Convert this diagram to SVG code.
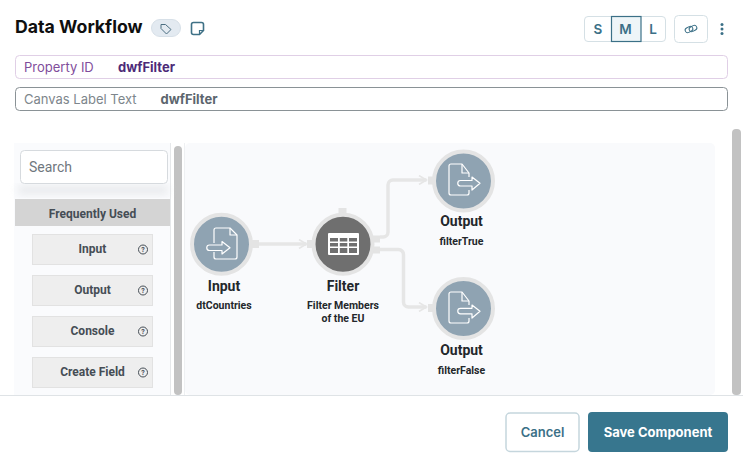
<svg xmlns="http://www.w3.org/2000/svg" width="743" height="461" viewBox="0 0 743 461">
<defs>
<filter id="sh" x="-10%" y="-30%" width="120%" height="180%"><feGaussianBlur stdDeviation="4"/></filter>
<marker id="arr" viewBox="0 0 10 10" refX="8.500" refY="5" markerWidth="10" markerHeight="10" markerUnits="userSpaceOnUse" orient="auto"><path d="M1 0.500L8.500 5L1 9.500" fill="none" stroke="#e6e6e6" stroke-width="1.600"/></marker>
</defs>
<style>
text{font-family:Inter,"Liberation Sans",sans-serif}
.r{font-family:Roboto,"Liberation Sans",sans-serif}
.side{fill:#eeeeee;stroke:#e2e2e2;stroke-width:1}
.sl{font-family:Roboto,"Liberation Sans",sans-serif;font-size:12px;font-weight:700;fill:#454d55;text-anchor:middle}
.q{fill:none;stroke:#454d55;stroke-width:1}
.qt{font-family:Roboto,"Liberation Sans",sans-serif;font-size:7px;font-weight:700;fill:#454d55;text-anchor:middle}
.ring{stroke:#e4e4e4;stroke-width:4}
.blue{fill:#8fa3b2}
.port{fill:#e4e4e4}
.nt{font-family:Roboto,"Liberation Sans",sans-serif;font-size:14px;font-weight:700;fill:#23272b;text-anchor:middle}
.ns{font-family:Roboto,"Liberation Sans",sans-serif;font-size:10.500px;font-weight:700;fill:#23272b;text-anchor:middle}
.conn{fill:none;stroke:#e6e6e6;stroke-width:3.500;stroke-linejoin:round}
.w{fill:none;stroke:#fff;stroke-width:1.200;stroke-linejoin:round}
.sz{font-size:13.500px;font-weight:600;fill:#3b7087;text-anchor:middle}
</style>
<rect width="743" height="461" fill="#fff"/>

<g id="header">
<text x="15" y="33" font-size="17.700" font-weight="700" fill="#0f0f0f">Data Workflow</text>
<rect x="151.500" y="19.500" width="29" height="17" rx="8.500" fill="#e3eaf1" stroke="#d7e0e8"/>
<path d="M161 24.500h4.500l5.500 5l-4.500 4.500l-5.500 -5.500z" fill="none" stroke="#4c6f82" stroke-width="1"/>
<path d="M191.500 24.500a2 2 0 0 1 2 -2h8a2 2 0 0 1 2 2v6l-4 4h-6a2 2 0 0 1 -2 -2z" fill="none" stroke="#3f7186" stroke-width="1.600"/>
<path d="M199.500 34.500v-4h4" fill="none" stroke="#3f7186" stroke-width="1.200"/>
</g>

<g id="size-buttons">
<rect x="584.500" y="16.500" width="81" height="25" rx="3.500" fill="#fff" stroke="#d5e0e5"/>
<rect x="611.500" y="16.500" width="29.500" height="25" fill="#eef5f8" stroke="#3b7087" stroke-width="1.200"/>
<text class="sz" x="598" y="34">S</text>
<text class="sz" x="625.500" y="34">M</text>
<text class="sz" x="653" y="34">L</text>
<rect x="674.500" y="15.500" width="33" height="27" rx="4" fill="#fff" stroke="#d5e0e5"/>
<g fill="none" stroke="#3b7087" stroke-width="1"><rect x="685" y="27" width="8" height="5" rx="2.500" transform="rotate(-28 689 29.500)"/><rect x="689" y="26" width="8" height="5" rx="2.500" transform="rotate(-28 693 28.500)"/></g>
<g fill="#3b7087"><circle cx="722" cy="24.500" r="1.500"/><circle cx="722" cy="29" r="1.500"/><circle cx="722" cy="33.500" r="1.500"/></g>
</g>

<g id="property-id">
<rect x="15.500" y="55.500" width="712" height="23" rx="4" fill="#fff" stroke="#e0cfe6"/>
<text x="24" y="72" font-size="13" fill="#7f4d9b">Property ID</text>
<text x="118" y="72" font-size="13" font-weight="700" fill="#4d2a78">dwfFilter</text>
</g>
<g id="canvas-label">
<rect x="15.500" y="87.500" width="712" height="23" rx="4" fill="#fff" stroke="#8a9296"/>
<text x="24" y="104" font-size="13" fill="#7d868c">Canvas Label Text</text>
<text x="160.500" y="104" font-size="13" font-weight="700" fill="#5c666e">dwfFilter</text>
</g>

<g id="canvas">
<rect x="14" y="143" width="156" height="252" fill="#fafbfd"/>
<rect x="170" y="143" width="1" height="252" fill="#e6e8ea"/>
<rect x="174" y="146" width="8" height="249" rx="4" fill="#c2c2c2"/>
<rect x="185" y="143" width="530" height="252" rx="5" fill="#f9fafc"/>
<rect x="184" y="143" width="1" height="252" fill="#eef0f2"/>
<rect x="732" y="129" width="9" height="266" rx="4" fill="#c2c2c2"/>
</g>

<g id="palette">
<rect x="18" y="186" width="150" height="8" fill="#dfe1e4" opacity=".7" filter="url(#sh)"/>
<rect x="20.500" y="150.500" width="147" height="33" rx="4" fill="#fff" stroke="#d6dade"/>
<text class="r" x="29" y="172" font-size="14" fill="#6f777e">Search</text>
<rect x="15" y="199" width="155" height="27" fill="#d4d4d4"/>
<text class="sl" x="92.500" y="218">Frequently Used</text>
<rect class="side" x="32.500" y="234.500" width="120" height="30"/>
<text class="sl" x="92.500" y="253">Input</text>
<circle class="q" cx="143" cy="249.500" r="4.500"/><text class="qt" x="143" y="252">?</text>
<rect class="side" x="32.500" y="275.500" width="120" height="30"/>
<text class="sl" x="92.500" y="294">Output</text>
<circle class="q" cx="143" cy="290.500" r="4.500"/><text class="qt" x="143" y="293">?</text>
<rect class="side" x="32.500" y="316.500" width="120" height="30"/>
<text class="sl" x="92.500" y="335">Console</text>
<circle class="q" cx="143" cy="331.500" r="4.500"/><text class="qt" x="143" y="334">?</text>
<rect class="side" x="32.500" y="357.500" width="120" height="30"/>
<text class="sl" x="92.500" y="376">Create Field</text>
<circle class="q" cx="143" cy="372.500" r="4.500"/><text class="qt" x="143" y="375">?</text>
</g>

<g id="connectors">
<path class="conn" d="M259 244H306.500" marker-end="url(#arr)"/>
<path class="conn" d="M380 237H383a5 5 0 0 0 5 -5V185a5 5 0 0 1 5 -5H426.500" marker-end="url(#arr)"/>
<path class="conn" d="M380 249.500H398.500a5 5 0 0 1 5 5V302a5 5 0 0 0 5 5H426.500" marker-end="url(#arr)"/>
</g>

<g id="node-input">
<rect class="port" x="252" y="240" width="7" height="8"/>
<circle class="ring blue" cx="221.500" cy="244.300" r="29.500"/>
<path class="w" d="M214 243V230a2 2 0 0 1 2 -2H230L237 235V257a2 2 0 0 1 -2 2H216a2 2 0 0 1 -2 -2V252"/>
<path class="w" d="M230 228V235H237"/>
<path class="w" d="M209.500 245H222V241.500L230 247.800L222 254V250.500H209.500a2.700 2.700 0 0 1 0 -5.500z"/>
<text class="nt" x="224" y="291">Input</text>
<text class="ns" x="224" y="309">dtCountries</text>
</g>

<g id="node-filter">
<rect class="port" x="338.500" y="208" width="8" height="7"/>
<rect class="port" x="307" y="240" width="7" height="8"/>
<rect class="port" x="372" y="235.500" width="8" height="7"/>
<rect class="port" x="372" y="246.500" width="8" height="7"/>
<circle class="ring" fill="#6f6f6f" cx="343" cy="244.300" r="29.500"/>
<rect x="328" y="233" width="31" height="22" rx="1" fill="#fff"/>
<g fill="#6f6f6f">
<rect x="330" y="238" width="8" height="3.500"/><rect x="339.800" y="238" width="7.500" height="3.500"/><rect x="349" y="238" width="8" height="3.500"/>
<rect x="330" y="243" width="8" height="3.500"/><rect x="339.800" y="243" width="7.500" height="3.500"/><rect x="349" y="243" width="8" height="3.500"/>
<rect x="330" y="248" width="8" height="5"/><rect x="339.800" y="248" width="7.500" height="5"/><rect x="349" y="248" width="8" height="5"/></g>
<text class="nt" x="343" y="291">Filter</text>
<text class="ns" x="343" y="309">Filter Members</text>
<text class="ns" x="343" y="322">of the EU</text>
</g>

<g id="node-output-true">
<rect class="port" x="428" y="176.500" width="7" height="8"/>
<circle class="ring blue" cx="463.500" cy="181" r="29.500"/>
<path class="w" d="M469 177V173L462 164H451a2 2 0 0 0 -2 2V193a2 2 0 0 0 2 2H467a2 2 0 0 0 2 -2V190"/>
<path class="w" d="M462 164V173H469"/>
<path class="w" d="M460.500 180.500H472V177L480 183.300L472 190V186H460.500a2.700 2.700 0 0 1 0 -5.500z"/>
<text class="nt" x="461.500" y="226">Output</text>
<text class="ns" x="461.500" y="245">filterTrue</text>
</g>

<g id="node-output-false">
<rect class="port" x="428" y="304" width="7" height="8"/>
<circle class="ring blue" cx="463.500" cy="308.500" r="29.500"/>
<path class="w" d="M469 305V301L462 292H451a2 2 0 0 0 -2 2V321a2 2 0 0 0 2 2H467a2 2 0 0 0 2 -2V318"/>
<path class="w" d="M462 292V301H469"/>
<path class="w" d="M460.500 308.300H472V305L480 311.300L472 318V313.800H460.500a2.700 2.700 0 0 1 0 -5.500z"/>
<text class="nt" x="461.500" y="355">Output</text>
<text class="ns" x="461.500" y="374">filterFalse</text>
</g>

<g id="footer">
<rect x="0" y="395" width="743" height="66" fill="#fff"/>
<rect x="0" y="395" width="743" height="1" fill="#dfe3e6"/>
<rect x="506" y="413" width="73" height="38.500" rx="4" fill="#fff" stroke="#c5d6dd" stroke-width="1.500"/>
<text x="542.500" y="437" font-size="13" font-weight="600" fill="#3b7087" text-anchor="middle">Cancel</text>
<rect x="588" y="412" width="140" height="40" rx="4" fill="#37768e"/>
<text x="658" y="437" font-size="13" font-weight="700" fill="#fff" text-anchor="middle">Save Component</text>
</g>
</svg>
